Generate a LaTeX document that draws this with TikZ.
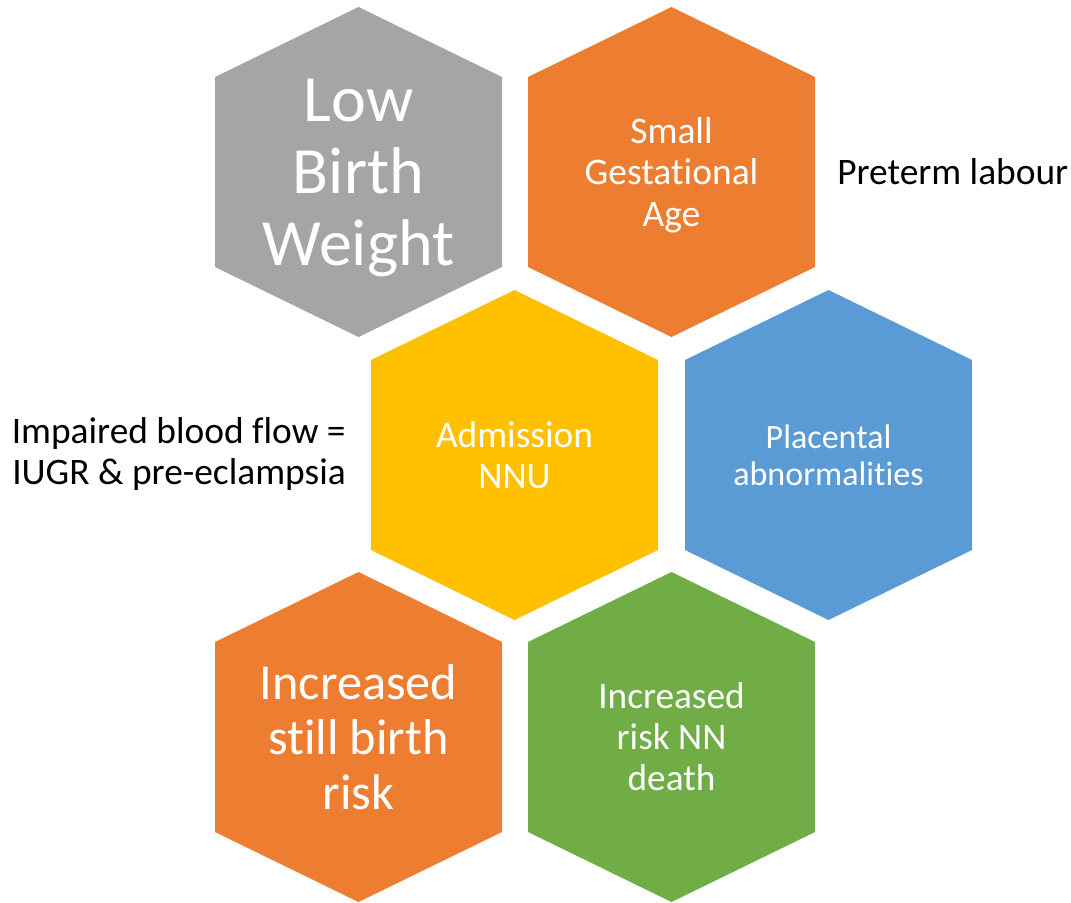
\documentclass[tikz,border=0pt]{standalone}
\usepackage{fontspec}
\setmainfont{Carlito}[Ligatures=NoCommon]
\usepackage{xcolor}
\usepackage{tikz}
\definecolor{hexgray}{HTML}{A5A5A5}
\definecolor{hexorange}{HTML}{ED7D31}
\definecolor{hexyellow}{HTML}{FFC000}
\definecolor{hexblue}{HTML}{5B9BD5}
\definecolor{hexgreen}{HTML}{70AD47}
\newcommand{\hexfont}[2]{\fontsize{#1}{#2}\selectfont}
\tikzset{
  hextext/.style={text=white, align=center, inner sep=0pt},
  sidetext/.style={text=black, inner sep=0pt, font={\hexfont{26.6}{29.5}}}
}

\begin{document}
\begin{tikzpicture}[x=0.025cm, y=-0.025cm]
  \useasboundingbox (0,0) rectangle (1071,902);
  % centres of the cells
  \coordinate (LBW) at (358.5,172);
  \coordinate (SGA) at (671.5,172);
  \coordinate (NNU) at (514.5,455);
  \coordinate (PLA) at (828.5,455);
  \coordinate (SBR) at (358.5,737);
  \coordinate (NND) at (671.5,737);
  \foreach \c/\col in {LBW/hexgray,SGA/hexorange,NNU/hexyellow,PLA/hexblue,SBR/hexorange,NND/hexgreen}{
    \fill[\col, shift={(\c)}] (0,-165) -- (143.5,-95) -- (143.5,95) -- (0,165)
      -- (-143.5,95) -- (-143.5,-95) -- cycle;
  }
  \node[hextext, font={\hexfont{47}{51.2}}] (lbwtext) at ([yshift=-4]LBW) {Low\\Birth\\Weight};
  \node[hextext, font={\hexfont{26.7}{29.5}}] (sgatext) at ([yshift=-2]SGA) {Small\\Gestational\\Age};
  \node[hextext, font={\hexfont{26.6}{29}}] (nnutext) at (NNU) {Admission\\NNU};
  \node[hextext, font={\hexfont{24.2}{26.3}}] (platext) at (PLA) {Placental\\abnormalities};
  \node[hextext, font={\hexfont{35.8}{39.1}}] (sbrtext) at (SBR) {Increased\\still birth\\risk};
  \node[hextext, font={\hexfont{26.5}{29.2}}] (nndtext) at (NND) {Increased\\risk NN\\death};
  \node[sidetext, anchor=west] (preterm) at (837,172) {Preterm labour};
  \node[sidetext, anchor=east, align=right] (flow) at (346,454) {Impaired blood flow =\\IUGR \& pre-eclampsia};
\end{tikzpicture}
\end{document}
